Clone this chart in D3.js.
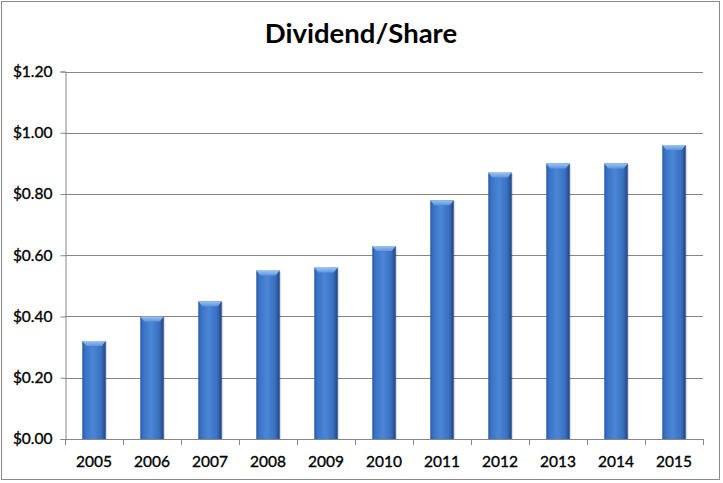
<!DOCTYPE html>
<html><head><meta charset="utf-8">
<script src="https://cdn.jsdelivr.net/npm/d3@7"></script>
<style>body{margin:0;background:#fff}svg{display:block}</style>
</head><body>
<script>
const years = ["2005","2006","2007","2008","2009","2010","2011","2012","2013","2014","2015"];
const dividends = [0.32,0.40,0.45,0.55,0.56,0.63,0.78,0.87,0.90,0.90,0.96];
const yTicks = [0,0.2,0.4,0.6,0.8,1.0,1.2];
const title = "Dividend/Share";

const W=723,H=483;
const m={l:65,r:703,t:71.5,b:439};
const svg=d3.select("body").append("svg").attr("width",W).attr("height",H);
const defs=svg.append("defs");
const g1=defs.append("linearGradient").attr("id","barg").attr("x1","0").attr("x2","1").attr("y1","0").attr("y2","0");
[[0,"#2a5aa6"],[0.12,"#3a71c4"],[0.45,"#4b86d6"],[0.8,"#3a70c0"],[1,"#1f4585"]].forEach(s=>g1.append("stop").attr("offset",s[0]).attr("stop-color",s[1]));
const g2=defs.append("linearGradient").attr("id","topg").attr("x1","0").attr("x2","0").attr("y1","0").attr("y2","1");
[[0,"#9cc4f4"],[1,"#5d95de"]].forEach(s=>g2.append("stop").attr("offset",s[0]).attr("stop-color",s[1]));

svg.append("rect").attr("x",1.5).attr("y",1.5).attr("width",718).attr("height",478).attr("fill","#fff").attr("stroke","#8a8a8a");

const x=d3.scaleBand().domain(years).range([m.l,m.r]).paddingInner(0.595).paddingOuter(0.2975);
const y=d3.scaleLinear().domain([0,1.2]).range([m.b,m.t]);

svg.append("g").selectAll("line").data(yTicks.slice(1)).join("line")
 .attr("x1",m.l).attr("x2",m.r).attr("y1",d=>Math.round(y(d))+0.5).attr("y2",d=>Math.round(y(d))+0.5)
 .attr("stroke","#868686").attr("stroke-width",1);

const bars=svg.append("g").selectAll("g").data(years.map((k,i)=>({k,v:dividends[i]}))).join("g");
bars.append("rect").attr("x",d=>x(d.k)+1.5).attr("y",d=>y(d.v)+1).attr("width",x.bandwidth()).attr("height",d=>m.b-y(d.v)-1)
 .attr("fill","#000").attr("opacity",0.12);
bars.append("rect").attr("x",d=>x(d.k)).attr("y",d=>y(d.v)).attr("width",x.bandwidth()).attr("height",d=>m.b-y(d.v))
 .attr("fill","url(#barg)");
bars.append("path").attr("d",d=>{const x0=x(d.k),x1=x0+x.bandwidth(),t=y(d.v),h=5,s=4;
  return `M${x0},${t}L${x1},${t}L${x1-s},${t+h}L${x0+s},${t+h}Z`;}).attr("fill","url(#topg)");

const yAxis=svg.append("g").attr("transform",`translate(${m.l+0.5},0)`)
 .call(d3.axisLeft(y).tickValues(yTicks).tickSize(5).tickPadding(8).tickFormat(d=>"$"+d.toFixed(2)));
const xAxis=svg.append("g").attr("transform",`translate(0,${Math.round(m.b)+0.5})`)
 .call(d3.axisBottom(x).tickSize(0).tickPadding(16));
xAxis.select(".domain").remove();
svg.append("line").attr("x1",m.l).attr("x2",m.r).attr("y1",Math.round(m.b)+0.5).attr("y2",Math.round(m.b)+0.5).attr("stroke","#868686");
const step=x.step();
svg.append("g").selectAll("line").data(d3.range(years.length+1)).join("line")
 .attr("x1",i=>Math.round(m.l+i*step)+0.5).attr("x2",i=>Math.round(m.l+i*step)+0.5)
 .attr("y1",Math.round(m.b)).attr("y2",Math.round(m.b)+6).attr("stroke","#868686");
[yAxis,xAxis].forEach(a=>{a.selectAll("path,line").attr("stroke","#868686");
 a.selectAll("text").attr("fill","#000").attr("stroke","#000").attr("stroke-width",0.35)
  .style("font-family","Lato, 'Open Sans', sans-serif").style("font-size","15.5px").style("font-weight","normal");});

svg.append("text").attr("x",361).attr("y",43).attr("text-anchor","middle")
 .style("font-family","Lato, 'Open Sans', sans-serif").style("font-size","27.5px").style("font-weight","bold").text(title);
</script>
</body></html>
